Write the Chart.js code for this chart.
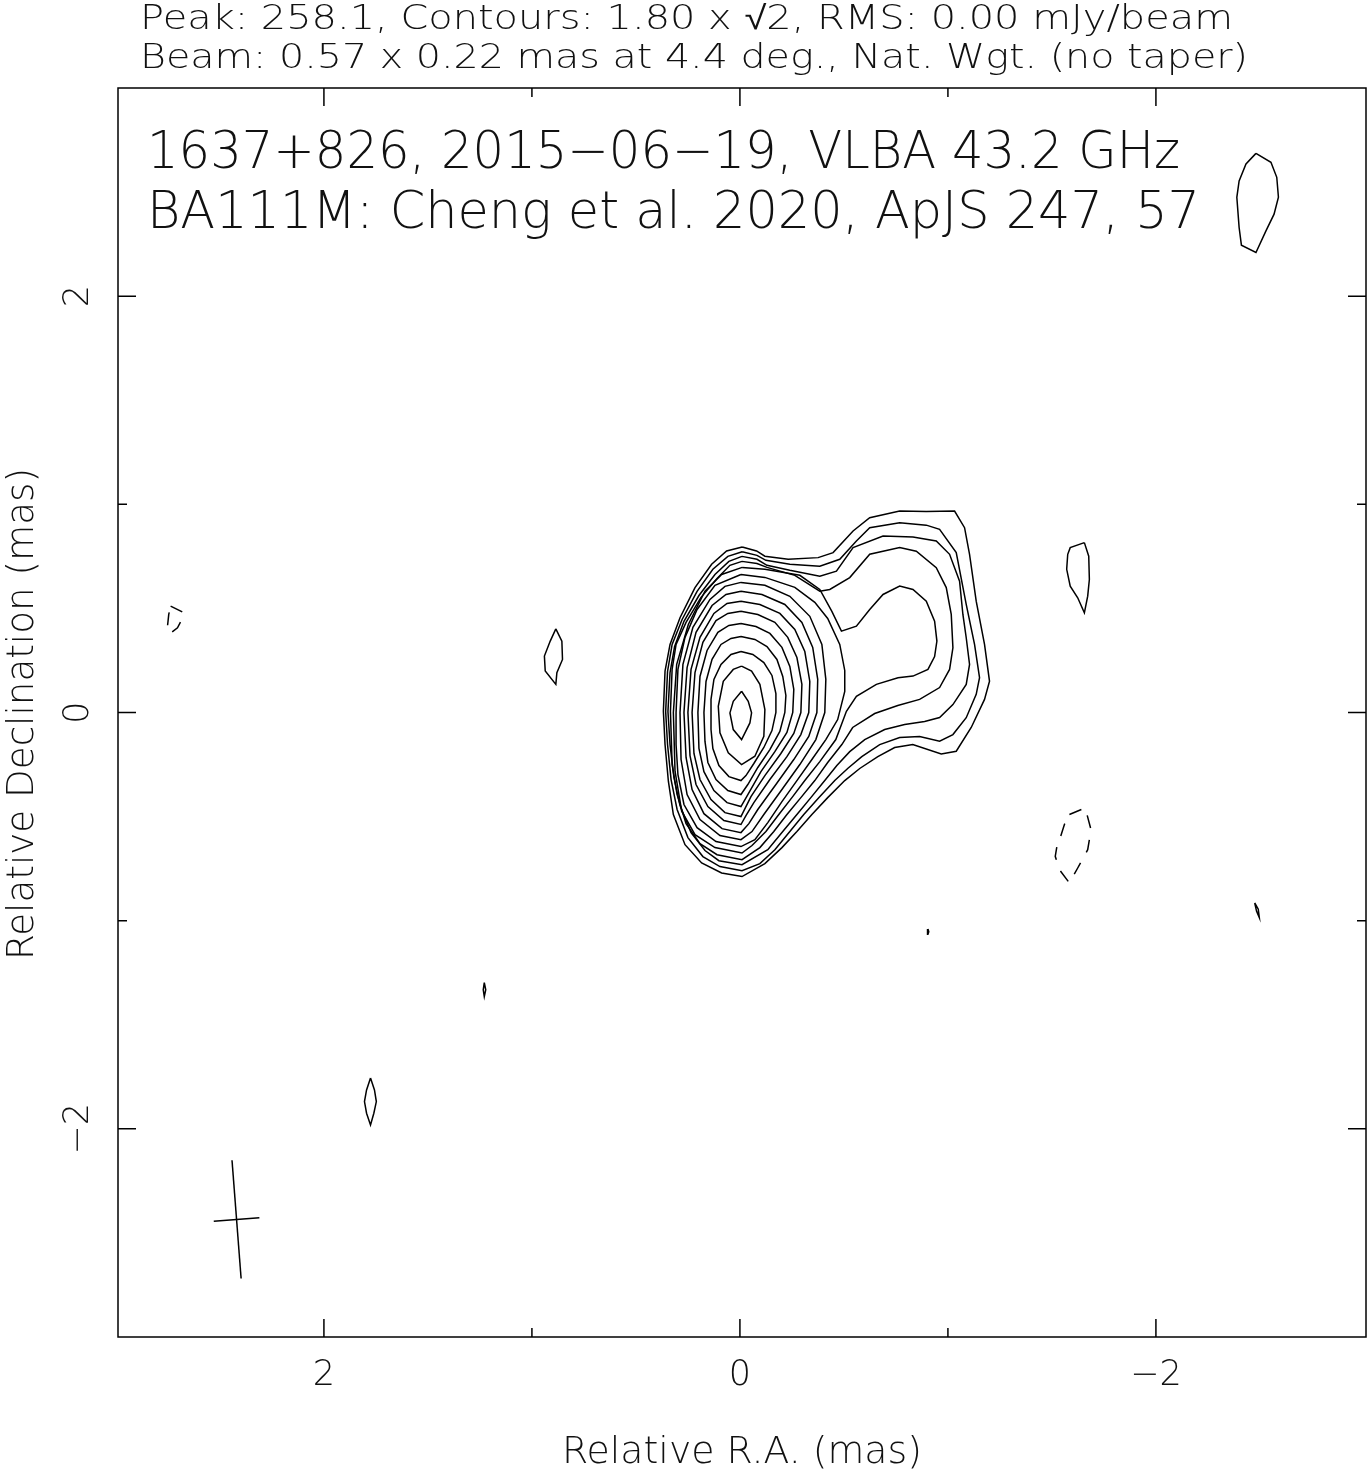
<!DOCTYPE html>
<html>
<head>
<meta charset="utf-8">
<script src="https://cdn.jsdelivr.net/npm/chart.js@4.4.0/dist/chart.umd.min.js"></script>
<style>
  body { margin: 0; background: #fff; }
  #wrap { width: 1367px; height: 1472px; }
</style>
</head>
<body>
<div id="wrap"><canvas id="map" width="1367" height="1472"></canvas></div>
<script>
// header / annotation text
const headerLines = [
  'Peak: 258.1, Contours: 1.80 x \u221A2, RMS: 0.00 mJy/beam',
  'Beam: 0.57 x 0.22 mas at 4.4 deg., Nat. Wgt. (no taper)'
];
const titleLines = [
  '1637+826, 2015\u221206\u221219, VLBA 43.2 GHz',
  'BA111M: Cheng et al. 2020, ApJS 247, 57'
];
const xTitle = 'Relative R.A. (mas)';
const yTitle = 'Relative Declination (mas)';
const majorTicks = [-2, 0, 2];
const minorTicks = [-1, 1];

// restoring beam (mas, mas, deg) and where it is drawn
const beamCenter = [2.42, -2.435];
const beamMajor = 0.57;
const beamMinor = 0.22;
const beamPA = 4.4;

// contours, relative RA / Dec in mas, outermost (1.80 mJy/beam) first
const c01 = [[-0.011,0.795],[-0.080,0.776],[-0.120,0.751],[-0.232,0.736],[-0.376,0.744],[-0.448,0.768],[-0.544,0.872],[-0.624,0.936],[-0.768,0.968],[-0.896,0.965],[-1.032,0.968],[-1.080,0.888],[-1.104,0.760],[-1.136,0.535],[-1.176,0.327],[-1.200,0.150],[-1.176,0.063],[-1.112,-0.072],[-1.040,-0.186],[-0.968,-0.199],[-0.831,-0.154],[-0.744,-0.168],[-0.663,-0.212],[-0.576,-0.269],[-0.504,-0.327],[-0.422,-0.409],[-0.346,-0.490],[-0.274,-0.572],[-0.202,-0.649],[-0.120,-0.726],[-0.010,-0.788],[0.088,-0.771],[0.184,-0.723],[0.264,-0.635],[0.320,-0.490],[0.344,-0.330],[0.360,-0.154],[0.368,0.006],[0.360,0.199],[0.336,0.327],[0.288,0.455],[0.216,0.600],[0.136,0.712],[0.064,0.776]];
const c02 = [[-0.011,0.772],[-0.082,0.755],[-0.125,0.731],[-0.240,0.712],[-0.384,0.703],[-0.480,0.736],[-0.560,0.824],[-0.624,0.888],[-0.768,0.912],[-0.896,0.900],[-0.960,0.880],[-1.040,0.768],[-1.088,0.519],[-1.128,0.327],[-1.152,0.167],[-1.136,0.087],[-1.088,-0.025],[-1.024,-0.106],[-0.960,-0.138],[-0.864,-0.115],[-0.768,-0.120],[-0.672,-0.154],[-0.586,-0.212],[-0.518,-0.269],[-0.456,-0.327],[-0.379,-0.409],[-0.307,-0.490],[-0.240,-0.572],[-0.168,-0.659],[-0.096,-0.726],[-0.010,-0.760],[0.096,-0.740],[0.178,-0.692],[0.250,-0.601],[0.302,-0.466],[0.331,-0.322],[0.348,-0.154],[0.357,0.005],[0.348,0.197],[0.326,0.327],[0.278,0.447],[0.206,0.582],[0.130,0.688],[0.058,0.750]];
const c03 = [[-0.010,0.750],[-0.082,0.736],[-0.130,0.707],[-0.240,0.683],[-0.384,0.655],[-0.464,0.679],[-0.544,0.792],[-0.688,0.848],[-0.832,0.843],[-0.944,0.824],[-1.008,0.760],[-1.056,0.631],[-1.072,0.471],[-1.088,0.359],[-1.104,0.231],[-1.088,0.135],[-1.024,0.038],[-0.960,-0.024],[-0.888,-0.043],[-0.792,-0.058],[-0.696,-0.082],[-0.600,-0.130],[-0.528,-0.188],[-0.466,-0.255],[-0.408,-0.327],[-0.341,-0.409],[-0.274,-0.490],[-0.206,-0.572],[-0.134,-0.659],[-0.010,-0.731],[0.101,-0.712],[0.168,-0.663],[0.235,-0.577],[0.288,-0.447],[0.317,-0.313],[0.336,-0.154],[0.346,0.005],[0.336,0.192],[0.314,0.317],[0.269,0.438],[0.197,0.562],[0.120,0.663],[0.053,0.726]];
const c04 = [[-0.010,0.726],[-0.082,0.716],[-0.130,0.697],[-0.264,0.659],[-0.384,0.583],[-0.432,0.591],[-0.528,0.648],[-0.624,0.760],[-0.768,0.792],[-0.848,0.775],[-0.944,0.696],[-0.992,0.600],[-1.016,0.471],[-1.024,0.311],[-1.008,0.207],[-0.960,0.120],[-0.864,0.063],[-0.759,0.034],[-0.648,-0.005],[-0.542,-0.072],[-0.490,-0.154],[-0.422,-0.240],[-0.360,-0.327],[-0.293,-0.409],[-0.226,-0.490],[-0.163,-0.572],[-0.096,-0.649],[-0.010,-0.707],[0.110,-0.683],[0.192,-0.630],[0.259,-0.534],[0.302,-0.394],[0.326,-0.250],[0.334,0.005],[0.326,0.207],[0.307,0.327],[0.259,0.433],[0.187,0.553],[0.110,0.644],[0.048,0.707]];
const c05 = [[-0.011,0.697],[-0.120,0.688],[-0.288,0.659],[-0.384,0.591],[-0.442,0.486],[-0.488,0.391],[-0.560,0.415],[-0.624,0.495],[-0.688,0.567],[-0.768,0.607],[-0.832,0.591],[-0.896,0.535],[-0.936,0.439],[-0.947,0.343],[-0.936,0.269],[-0.904,0.207],[-0.832,0.175],[-0.760,0.167],[-0.656,0.135],[-0.560,0.078],[-0.512,0.006],[-0.461,-0.130],[-0.384,-0.236],[-0.312,-0.327],[-0.250,-0.409],[-0.187,-0.490],[-0.125,-0.572],[-0.058,-0.639],[-0.010,-0.675],[0.120,-0.649],[0.216,-0.587],[0.280,-0.474],[0.312,-0.282],[0.320,0.000],[0.304,0.231],[0.248,0.423],[0.168,0.583],[0.088,0.663]];
const c06 = [[-0.005,0.663],[-0.120,0.649],[-0.264,0.601],[-0.360,0.529],[-0.422,0.452],[-0.480,0.327],[-0.504,0.202],[-0.504,0.101],[-0.470,-0.034],[-0.413,-0.130],[-0.346,-0.226],[-0.274,-0.327],[-0.202,-0.428],[-0.134,-0.529],[-0.072,-0.611],[-0.005,-0.644],[0.115,-0.620],[0.206,-0.553],[0.269,-0.442],[0.298,-0.298],[0.307,-0.154],[0.307,0],[0.298,0.207],[0.264,0.361],[0.206,0.495],[0.120,0.611]];
const c07 = [[-0.005,0.625],[-0.120,0.611],[-0.240,0.558],[-0.336,0.462],[-0.394,0.327],[-0.413,0.159],[-0.408,0],[-0.365,-0.130],[-0.288,-0.250],[-0.202,-0.370],[-0.115,-0.490],[-0.058,-0.572],[-0.005,-0.611],[0.096,-0.591],[0.192,-0.514],[0.254,-0.394],[0.283,-0.226],[0.288,0],[0.274,0.231],[0.226,0.409],[0.144,0.543],[0.072,0.606]];
const c08 = [[-0.005,0.582],[-0.106,0.567],[-0.216,0.519],[-0.298,0.433],[-0.350,0.313],[-0.374,0.159],[-0.370,0],[-0.331,-0.115],[-0.259,-0.226],[-0.173,-0.346],[-0.086,-0.466],[-0.043,-0.534],[-0.005,-0.577],[0.086,-0.558],[0.173,-0.486],[0.230,-0.370],[0.259,-0.216],[0.269,0],[0.254,0.216],[0.211,0.385],[0.134,0.514],[0.067,0.567]];
const c09 = [[-0.005,0.534],[-0.096,0.519],[-0.192,0.476],[-0.264,0.399],[-0.312,0.293],[-0.336,0.149],[-0.331,0],[-0.293,-0.106],[-0.226,-0.212],[-0.144,-0.322],[-0.067,-0.433],[-0.029,-0.495],[-0.005,-0.538],[0.077,-0.519],[0.154,-0.452],[0.211,-0.346],[0.240,-0.207],[0.250,0],[0.235,0.207],[0.192,0.361],[0.125,0.476],[0.062,0.524]];
const c10 = [[-0.005,0.486],[-0.086,0.471],[-0.168,0.433],[-0.230,0.361],[-0.274,0.264],[-0.298,0.135],[-0.293,0],[-0.259,-0.101],[-0.197,-0.197],[-0.120,-0.303],[-0.053,-0.404],[-0.005,-0.500],[0.072,-0.481],[0.139,-0.418],[0.192,-0.322],[0.221,-0.197],[0.230,0],[0.216,0.192],[0.178,0.337],[0.115,0.442],[0.058,0.476]];
const c11 = [[-0.005,0.428],[-0.077,0.413],[-0.144,0.380],[-0.202,0.313],[-0.240,0.221],[-0.259,0.111],[-0.254,0],[-0.226,-0.096],[-0.168,-0.188],[-0.101,-0.284],[-0.038,-0.394],[-0.005,-0.452],[0.062,-0.433],[0.125,-0.375],[0.173,-0.284],[0.197,-0.173],[0.202,0],[0.192,0.173],[0.158,0.298],[0.106,0.385],[0.053,0.418]];
const c12 = [[-0.005,0.365],[-0.072,0.351],[-0.130,0.317],[-0.178,0.255],[-0.206,0.173],[-0.221,0.082],[-0.216,0],[-0.192,-0.091],[-0.144,-0.178],[-0.086,-0.264],[-0.038,-0.346],[-0.005,-0.394],[0.058,-0.375],[0.115,-0.322],[0.154,-0.240],[0.168,-0.139],[0.173,0],[0.163,0.149],[0.134,0.255],[0.091,0.327],[0.043,0.356]];
const c13 = [[-0.005,0.293],[-0.062,0.279],[-0.115,0.240],[-0.154,0.178],[-0.173,0.091],[-0.173,0],[-0.154,-0.087],[-0.115,-0.168],[-0.067,-0.245],[-0.029,-0.303],[-0.005,-0.327],[0.053,-0.308],[0.101,-0.255],[0.130,-0.173],[0.139,-0.082],[0.139,0.063],[0.125,0.159],[0.091,0.231],[0.043,0.279]];
const c14 = [[-0.008,0.223],[-0.056,0.199],[-0.096,0.135],[-0.120,0.014],[-0.115,-0.114],[-0.072,-0.210],[-0.008,-0.250],[0.056,-0.194],[0.096,-0.098],[0.104,0.030],[0.080,0.150],[0.032,0.207]];
const c15 = [[-0.008,0.102],[-0.040,0.054],[-0.056,-0.002],[-0.048,-0.050],[-0.008,-0.130],[0.032,-0.082],[0.048,-0.002],[0.032,0.054]];

// isolated 1.80 mJy/beam islands
const islandNE = [[-2.481,2.686],[-2.553,2.643],[-2.581,2.571],[-2.589,2.475],[-2.568,2.394],[-2.529,2.314],[-2.481,2.210],[-2.411,2.245],[-2.400,2.330],[-2.389,2.475],[-2.400,2.554],[-2.433,2.635]];
const islandW = [[-1.656,0.816],[-1.677,0.751],[-1.680,0.639],[-1.672,0.559],[-1.656,0.479],[-1.624,0.551],[-1.588,0.607],[-1.571,0.688],[-1.576,0.760],[-1.588,0.792]];
const islandE = [[0.885,0.402],[0.856,0.343],[0.853,0.255],[0.880,0.191],[0.885,0.135],[0.936,0.199],[0.940,0.271],[0.912,0.343]];
const islandSE = [[1.776,-1.756],[1.757,-1.813],[1.748,-1.869],[1.760,-1.925],[1.776,-1.981],[1.795,-1.925],[1.805,-1.869],[1.795,-1.813]];
const speckA = [[1.229,-1.298],[1.222,-1.332],[1.229,-1.365],[1.234,-1.332]];
const speckB = [[-0.904,-1.040],[-0.908,-1.053],[-0.904,-1.065],[-0.900,-1.053]];
const speckC = [[-2.475,-0.915],[-2.492,-0.945],[-2.497,-0.985],[-2.484,-0.955]];

// negative (-1.80 mJy/beam) contours
const negW = [[-1.584,-0.490],[-1.660,-0.458],[-1.688,-0.563],[-1.672,-0.659],[-1.624,-0.747],[-1.584,-0.819],[-1.536,-0.755],[-1.516,-0.691],[-1.527,-0.625],[-1.541,-0.598],[-1.560,-0.538]];
const negE = [[2.737,0.511],[2.673,0.479],[2.680,0.452],[2.704,0.407],[2.741,0.378],[2.752,0.415],[2.746,0.471]];

const positive = [c01, c02, c03, c04, c05, c06, c07, c08, c09, c10, c11, c12, c13, c14, c15,
  islandNE, islandW, islandE, islandSE, speckA, speckB, speckC];
const negative = [negW, negE];

function loop(pts) {
  const d = pts.map(p => ({x: p[0], y: p[1]}));
  d.push({x: pts[0][0], y: pts[0][1]});
  return d;
}

const datasets = [];
positive.forEach(pts => datasets.push({
  data: loop(pts), showLine: true, borderColor: '#000', borderWidth: 1.5,
  pointRadius: 0, fill: false, tension: 0
}));
negative.forEach(pts => datasets.push({
  data: loop(pts), showLine: true, borderColor: '#000', borderWidth: 1.5,
  borderDash: [13, 12], pointRadius: 0, fill: false, tension: 0
}));

// beam cross, from the beam parameters
const pa = beamPA * Math.PI / 180;
datasets.push({
  data: [
    {x: beamCenter[0] + beamMajor / 2 * Math.sin(pa), y: beamCenter[1] + beamMajor / 2 * Math.cos(pa)},
    {x: beamCenter[0] - beamMajor / 2 * Math.sin(pa), y: beamCenter[1] - beamMajor / 2 * Math.cos(pa)}
  ],
  showLine: true, borderColor: '#000', borderWidth: 1.5, pointRadius: 0
});
datasets.push({
  data: [
    {x: beamCenter[0] + beamMinor / 2 * Math.cos(pa), y: beamCenter[1] - beamMinor / 2 * Math.sin(pa)},
    {x: beamCenter[0] - beamMinor / 2 * Math.cos(pa), y: beamCenter[1] + beamMinor / 2 * Math.sin(pa)}
  ],
  showLine: true, borderColor: '#000', borderWidth: 1.5, pointRadius: 0
});

const FONT = '"DejaVu Sans", "Liberation Sans", sans-serif';

// draw text squeezed/stretched to a given width
function fitText(ctx, text, x, y, width, size, rot, align) {
  ctx.save();
  ctx.font = '200 ' + size + 'px ' + FONT;
  const m = ctx.measureText(text).width;
  const sx = width ? width / m : 1;
  ctx.translate(x, y);
  ctx.rotate(rot || 0);
  ctx.scale(sx, 1);
  ctx.textBaseline = 'alphabetic';
  let off = 0;
  if (align === 'center') off = -m / 2;
  ctx.fillText(text, off, 0);
  ctx.restore();
}

const framePlugin = {
  id: 'frame',
  afterDatasetsDraw(chart) {
    const {ctx, chartArea: a, scales: {x, y}} = chart;
    ctx.save();
    ctx.strokeStyle = '#000';
    ctx.lineWidth = 1.5;
    ctx.strokeRect(a.left, a.top, a.right - a.left, a.bottom - a.top);

    ctx.beginPath();
    const tick = (v, len) => {
      const px = x.getPixelForValue(v);
      ctx.moveTo(px, a.bottom); ctx.lineTo(px, a.bottom - len);
      ctx.moveTo(px, a.top); ctx.lineTo(px, a.top + len);
      const py = y.getPixelForValue(v);
      ctx.moveTo(a.left, py); ctx.lineTo(a.left + len, py);
      ctx.moveTo(a.right, py); ctx.lineTo(a.right - len, py);
    };
    majorTicks.forEach(v => tick(v, 18));
    minorTicks.forEach(v => tick(v, 9));
    ctx.stroke();

    ctx.fillStyle = '#111';
    fitText(ctx, headerLines[0], 140, 29, 1093, 33);
    fitText(ctx, headerLines[1], 140, 68, 1108, 33);
    fitText(ctx, titleLines[0], 147, 168, 1033, 52);
    fitText(ctx, titleLines[1], 147, 228, 1053, 52);

    majorTicks.forEach(v => {
      const lab = v < 0 ? '\u2212' + Math.abs(v) : String(v);
      fitText(ctx, lab, x.getPixelForValue(v), 1385, 0, 35, 0, 'center');
      fitText(ctx, lab, 88, y.getPixelForValue(v), 0, 35, -Math.PI / 2, 'center');
    });

    fitText(ctx, xTitle, 742, 1463, 360, 38, 0, 'center');
    fitText(ctx, yTitle, 33, 714, 492, 38, -Math.PI / 2, 'center');
    ctx.restore();
  }
};

new Chart(document.getElementById('map'), {
  type: 'scatter',
  data: { datasets: datasets },
  options: {
    responsive: false,
    animation: false,
    devicePixelRatio: 1,
    events: [],
    layout: { padding: { left: 118, right: 1, top: 88, bottom: 135 } },
    scales: {
      x: { type: 'linear', min: -3.01, max: 2.99, reverse: true, display: false },
      y: { type: 'linear', min: -3, max: 3, display: false }
    },
    plugins: {
      legend: { display: false },
      tooltip: { enabled: false }
    }
  },
  plugins: [framePlugin]
});
</script>
</body>
</html>
